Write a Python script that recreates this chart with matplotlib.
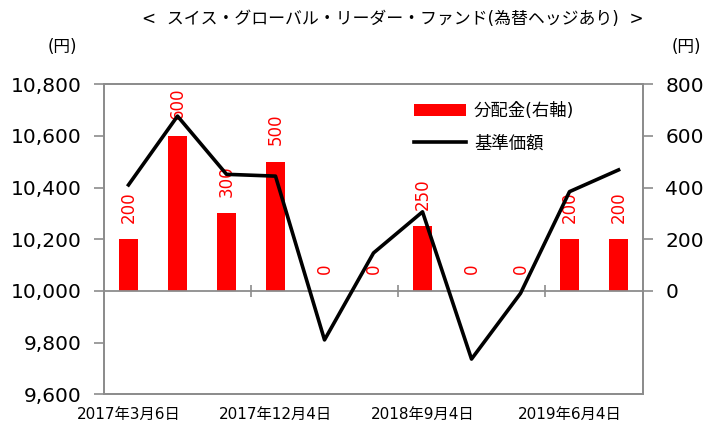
import matplotlib
matplotlib.use("Agg")
import matplotlib.pyplot as plt
from matplotlib.ticker import FuncFormatter

## data ##
dates = ["2017年3月6日", "2017年6月5日", "2017年9月4日", "2017年12月4日",
         "2018年3月5日", "2018年6月4日", "2018年9月4日", "2018年12月4日",
         "2019年3月4日", "2019年6月4日", "2019年9月4日"]
dividend = [200, 600, 300, 500, 0, 0, 250, 0, 0, 200, 200]
nav = [10410, 10676, 10451, 10444, 9811, 10147, 10306, 9737, 9991, 10384, 10468]
label_idx = [0, 3, 6, 9]
left_ticks = [9600, 9800, 10000, 10200, 10400, 10600, 10800]
right_ticks = [0, 200, 400, 600, 800]

title = "<  スイス・グローバル・リーダー・ファンド(為替ヘッジあり)  >"

## style ##
jp = ["DejaVu Sans", "Noto Sans CJK JP"]
grey = "#8c8c8c"

fig = plt.figure(figsize=(7.06, 4.28), dpi=100)
ax1 = fig.add_axes([0.1473, 0.0783, 0.7635, 0.7254])
ax2 = ax1.twinx()
ax1.set_zorder(ax2.get_zorder() + 1)
ax1.patch.set_visible(False)

x = list(range(len(dates)))

# bars (right axis)
bars = ax2.bar(x, dividend, width=0.4, color="#ff0000", label="分配金(右軸)")
for xi, v in zip(x, dividend):
    ax2.annotate(str(v), (xi, v), xytext=(0, 12), textcoords="offset points",
                 rotation=90, ha="center", va="bottom", color="#ff0000",
                 fontsize=12, family=jp)

# line (left axis)
line, = ax1.plot(x, nav, color="black", lw=2.6, label="基準価額")

ax1.set_xlim(-0.5, len(dates) - 0.5)
ax1.set_ylim(9600, 10800)
ax2.set_ylim(-400, 800)

ax1.set_yticks(left_ticks)
ax1.yaxis.set_major_formatter(FuncFormatter(lambda v, p: f"{int(v):,}"))
ax2.set_yticks(right_ticks)

ax1.set_xticks(label_idx)
ax1.set_xticklabels([dates[i] for i in label_idx], family=jp, fontsize=11)
ax1.tick_params(axis="x", length=0, pad=9)
ax1.tick_params(axis="y", length=7, width=1.2, color=grey, labelsize=14.5, pad=9)
ax2.tick_params(axis="y", length=7, width=1.2, color=grey, labelsize=14.5, pad=9)

for ax in (ax1, ax2):
    for s in ax.spines.values():
        s.set_color(grey)
        s.set_linewidth(1.3)

# category axis at 10,000 / 0
mid = ax1.secondary_xaxis((10000 - 9600) / 1200)
mid.set_xticks([2.5, 5.5, 8.5])
mid.set_xticklabels([])
mid.tick_params(axis="x", direction="inout", length=8, width=1.2, color=grey)
mid.spines["bottom"].set_color(grey)
mid.spines["bottom"].set_linewidth(1.3)

# legend
fig.legend([bars, line], ["分配金(右軸)", "基準価額"], loc="upper left",
           bbox_to_anchor=(0.5864, 0.761), frameon=False, borderpad=0,
           borderaxespad=0, handlelength=3.0, handletextpad=0.45,
           labelspacing=0.8, prop={"family": jp, "size": 12.5})

# texts
fig.text(0.556, 0.955, title, ha="center", va="center", fontsize=12.2, family=jp)
fig.text(0.088, 0.89, "(円)", ha="center", va="center", fontsize=12, family=jp)
fig.text(0.972, 0.89, "(円)", ha="center", va="center", fontsize=12, family=jp)

fig.savefig("out.png", dpi=100)
